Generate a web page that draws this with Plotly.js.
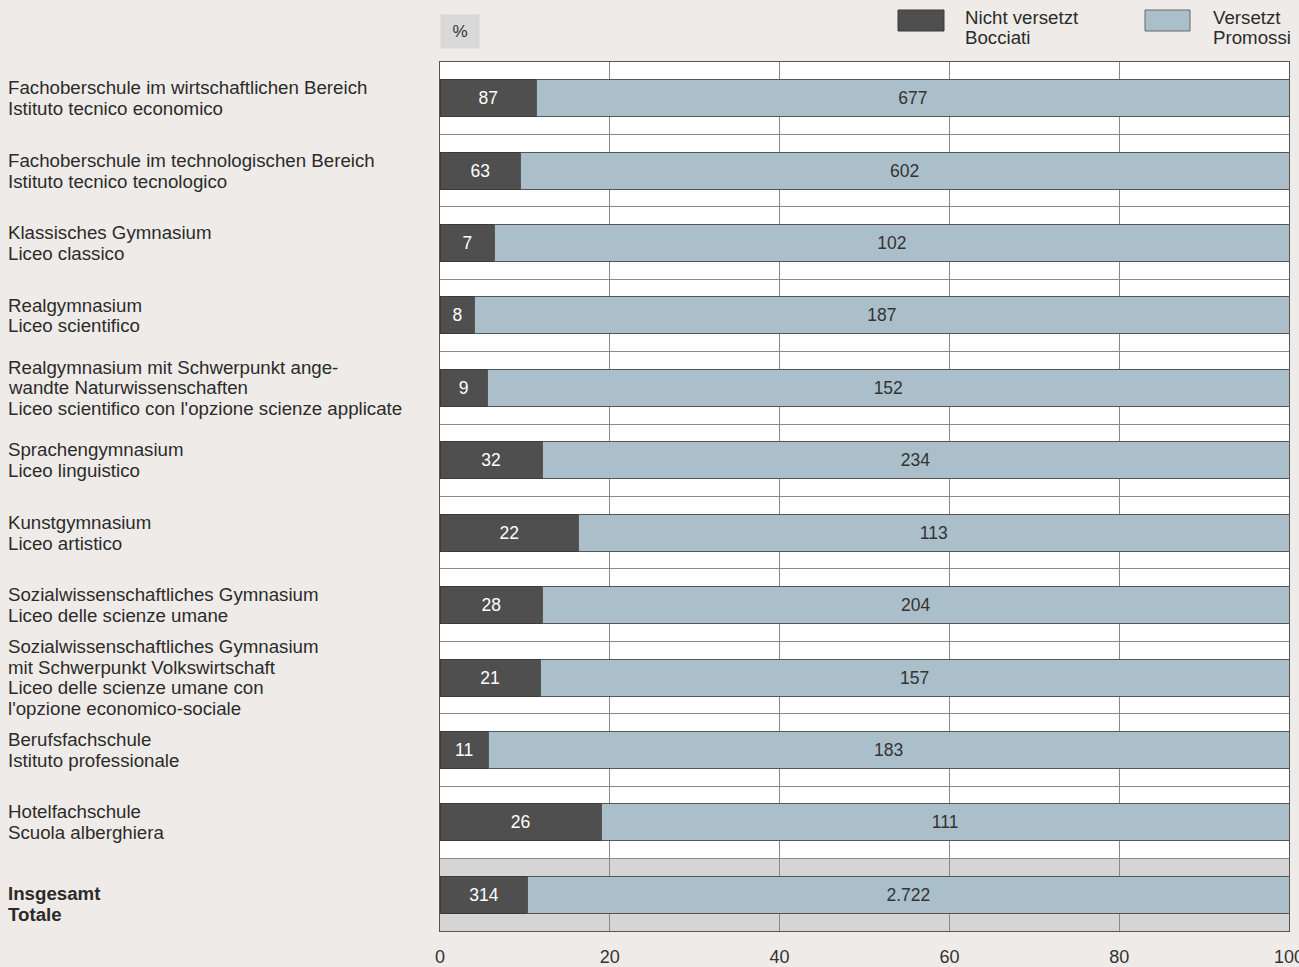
<!DOCTYPE html>
<html>
<head>
<meta charset="utf-8">
<script src="https://cdn.plot.ly/plotly-3.0.1.min.js"></script>
<style>
html,body{margin:0;padding:0;background:#efebe8;}
#chart{width:1299px;height:967px;}
</style>
</head>
<body>
<div id="chart"></div>
<script>
const categories = [
  "Fachoberschule im wirtschaftlichen Bereich<br>Istituto tecnico economico",
  "Fachoberschule im technologischen Bereich<br>Istituto tecnico tecnologico",
  "Klassisches Gymnasium<br>Liceo classico",
  "Realgymnasium<br>Liceo scientifico",
  "Realgymnasium mit Schwerpunkt ange-<br>wandte Naturwissenschaften<br>Liceo scientifico con l'opzione scienze applicate",
  "Sprachengymnasium<br>Liceo linguistico",
  "Kunstgymnasium<br>Liceo artistico",
  "Sozialwissenschaftliches Gymnasium<br>Liceo delle scienze umane",
  "Sozialwissenschaftliches Gymnasium<br>mit Schwerpunkt Volkswirtschaft<br>Liceo delle scienze umane con<br>l'opzione economico-sociale",
  "Berufsfachschule<br>Istituto professionale",
  "Hotelfachschule<br>Scuola alberghiera",
  "<b>Insgesamt<br>Totale</b>"
];
const nichtVersetzt = [87, 63, 7, 8, 9, 32, 22, 28, 21, 11, 26, 314];
const versetzt = [677, 602, 102, 187, 152, 234, 113, 204, 157, 183, 111, 2722];
const xTicks = [0, 20, 40, 60, 80, 100];
const seriesNames = ["Nicht versetzt<br>Bocciati", "Versetzt<br>Promossi"];

const totals = nichtVersetzt.map((v, i) => v + versetzt[i]);
const pctN = nichtVersetzt.map((v, i) => v / totals[i] * 100);
const pctV = versetzt.map((v, i) => v / totals[i] * 100);
const yIdx = categories.map((c, i) => i);

const DARK = "#4f4f4f";
const LIGHT = "#aabfca";
const FONT = "Arial, 'Liberation Sans', sans-serif";
const LBL = 18.7;
const LH = 20.8;

const traces = [
  {
    type: "bar", orientation: "h", name: seriesNames[0],
    x: pctN, y: yIdx, customdata: nichtVersetzt,
    texttemplate: "%{customdata:,}", textposition: "inside", insidetextanchor: "middle",
    constraintext: "none",
    textfont: {color: "#ffffff", size: 17.5, family: FONT},
    marker: {color: DARK, line: {color: "#3a3a3a", width: 1}},
    width: 0.51, hoverinfo: "skip"
  },
  {
    type: "bar", orientation: "h", name: seriesNames[1],
    x: pctV, y: yIdx, customdata: versetzt,
    texttemplate: "%{customdata:,}", textposition: "inside", insidetextanchor: "middle",
    constraintext: "none",
    textfont: {color: "#333333", size: 17.5, family: FONT},
    marker: {color: LIGHT, line: {color: "#555555", width: 1}},
    width: 0.51, hoverinfo: "skip"
  }
];

const annotations = [];
function addLines(text, xref, x, yref, y, bold, extraShift) {
  const lines = text.replace(/<\/?b>/g, "").split("<br>");
  const n = lines.length;
  lines.forEach((ln, k) => {
    annotations.push({
      xref: xref, yref: yref, x: x, y: y,
      xanchor: "left", yanchor: "middle", align: "left",
      yshift: -(k - (n - 1) / 2) * LH + (extraShift || 0),
      text: bold ? "<b>" + ln + "</b>" : ln, showarrow: false,
      font: {family: FONT, size: LBL, color: "#2b2b2b"}
    });
  });
}
categories.forEach((c, i) => {
  const bold = c.indexOf("<b>") >= 0;
  addLines(c, "paper", (6 - 440) / 849, "y", i, bold, bold ? -9 : 0);
});

annotations.push({
  xref: "paper", yref: "paper", x: 0, y: (931 - 31.5) / 869,
  xanchor: "left", yanchor: "middle", text: "%", showarrow: false,
  width: 36, height: 31, bgcolor: "#d9d9d9",
  font: {family: FONT, size: 17, color: "#333"}
});
addLines(seriesNames[0], "paper", (963 - 440) / 849, "paper", (931 - 27.5) / 869, false, 0);
addLines(seriesNames[1], "paper", (1211 - 440) / 849, "paper", (931 - 27.5) / 869, false, 0);

const shapes = [
  {type: "rect", xref: "paper", yref: "y", x0: 0, x1: 1, y0: 10.5, y1: 11.5,
   fillcolor: "#d5d5d5", line: {width: 0}, layer: "below"},
  {type: "rect", xref: "paper", yref: "paper",
   x0: (898 - 440) / 849, x1: (944 - 440) / 849, y0: (931 - 31) / 869, y1: (931 - 10) / 869,
   fillcolor: DARK, line: {color: "#3a3a3a", width: 1}},
  {type: "rect", xref: "paper", yref: "paper",
   x0: (1145 - 440) / 849, x1: (1190 - 440) / 849, y0: (931 - 31) / 869, y1: (931 - 10) / 869,
   fillcolor: LIGHT, line: {color: "#666", width: 1}}
];

const layout = {
  width: 1299, height: 967,
  margin: {l: 440, r: 10, t: 62, b: 36},
  paper_bgcolor: "#efebe8", plot_bgcolor: "#ffffff",
  barmode: "stack", showlegend: false,
  separators: ",.",
  font: {family: FONT, size: 17, color: "#333"},
  xaxis: {
    range: [0, 100], tickvals: xTicks, showgrid: true, gridcolor: "#8a8a8a", gridwidth: 1,
    zeroline: false, showline: true, mirror: true, linecolor: "#555", linewidth: 1,
    ticks: "", ticklabelstandoff: 9, ticklabeloverflow: "allow",
    tickfont: {family: FONT, size: 18, color: "#333"}
  },
  yaxis: {
    range: [11.5, -0.5], tickvals: yIdx.map(i => i + 0.5).concat([-0.5]), showticklabels: false,
    showgrid: true, gridcolor: "#8a8a8a", gridwidth: 1, zeroline: false,
    showline: true, mirror: true, linecolor: "#555", linewidth: 1, ticks: ""
  },
  annotations: annotations,
  shapes: shapes
};

Plotly.newPlot("chart", traces, layout, {staticPlot: true, displayModeBar: false});
</script>
</body>
</html>
